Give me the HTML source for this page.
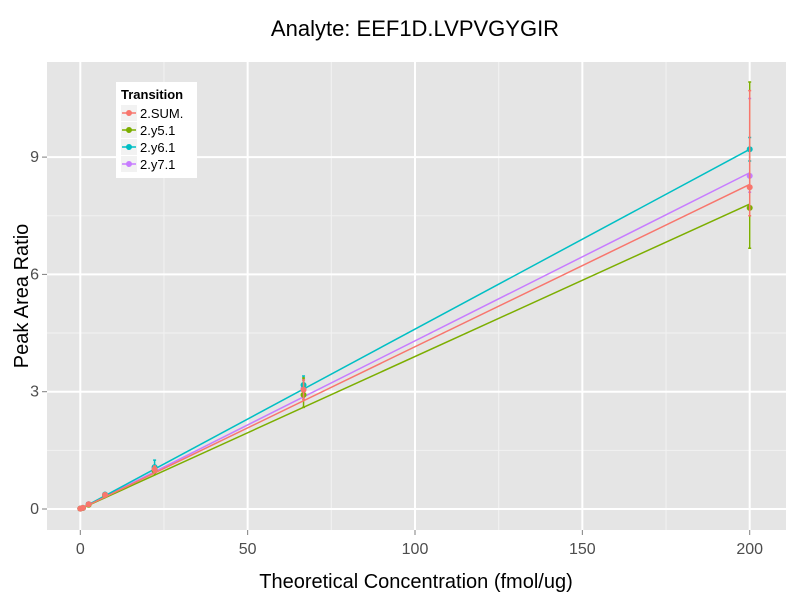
<!DOCTYPE html>
<html><head><meta charset="utf-8"><style>
body{margin:0;background:#fff;font-family:"Liberation Sans",sans-serif}
</style></head><body>
<svg id="chart" width="800" height="600" xmlns="http://www.w3.org/2000/svg">
<rect x="0" y="0" width="800" height="600" fill="#fff"/>
<rect x="47" y="62" width="739" height="468" fill="#e5e5e5"/>
<g id="grid"></g>
<g id="series"></g>
<g id="axes"></g>
<text x="415" y="36" font-size="22" text-anchor="middle" fill="#000">Analyte: EEF1D.LVPVGYGIR</text>
<text x="416" y="588" font-size="20" text-anchor="middle" fill="#000">Theoretical Concentration (fmol/ug)</text>
<text x="28" y="296" font-size="20" text-anchor="middle" fill="#000" transform="rotate(-90 28 296)">Peak Area Ratio</text>
<g>
<rect x="116" y="82" width="81" height="96" fill="#fff"/>
<text x="121" y="99" font-size="13" font-weight="bold" fill="#000">Transition</text>
<g id="legend-items"></g>
</g>
</svg>
<script>
const xTicks=[0,50,100,150,200];
const yTicks=[0,3,6,9];
const seriesNames=["2.SUM.","2.y5.1","2.y6.1","2.y7.1"];
const colors=["#F8766D","#7CAE00","#00BFC4","#C77CFF"];
const concs=[0,0.8,2.5,7.4,22.2,66.7,200];
const valsSUM=[0.01,0.03,0.12,0.36,1.02,3.05,8.23];
const valsY5=[0.01,0.03,0.11,0.35,0.98,2.92,7.70];
const valsY6=[0.01,0.03,0.12,0.37,1.07,3.17,9.20];
const valsY7=[0.01,0.03,0.12,0.36,1.04,3.08,8.52];
const lowSUM=[0,0.02,0.1,0.33,0.95,2.8,7.5];
const highSUM=[0.02,0.04,0.14,0.39,1.1,3.3,10.7];
const lowY5=[0,0.02,0.1,0.33,0.9,2.6,6.67];
const highY5=[0.02,0.04,0.13,0.38,1.05,3.35,10.92];
const lowY6=[0,0.02,0.1,0.34,0.95,3.0,8.9];
const highY6=[0.02,0.04,0.14,0.4,1.25,3.4,9.5];
const lowY7=[0,0.02,0.1,0.33,0.97,2.85,8.1];
const highY7=[0.02,0.04,0.14,0.39,1.12,3.3,10.5];
const fitEnd=[8.3,7.8,9.2,8.6];
const vals=[valsSUM,valsY5,valsY6,valsY7];
const lows=[lowSUM,lowY5,lowY6,lowY7];
const highs=[highSUM,highY5,highY6,highY7];
const NS="http://www.w3.org/2000/svg";
const X=v=>80.3+v*3.347;
const Y=v=>509-v*39.1;
function mk(p,tag,a){const e=document.createElementNS(NS,tag);for(const k in a)e.setAttribute(k,a[k]);p.appendChild(e);return e;}
const grid=document.getElementById('grid'),axes=document.getElementById('axes'),ser=document.getElementById('series');
for(let i=0;i<xTicks.length-1;i++){const m=(xTicks[i]+xTicks[i+1])/2;const l=mk(grid,'line',{x1:X(m),x2:X(m),y1:62,y2:530,stroke:'#f2f2f2','stroke-width':1});

}
for(let i=0;i<yTicks.length-1;i++){const m=(yTicks[i]+yTicks[i+1])/2;const l=mk(grid,'line',{x1:47,x2:786,y1:Y(m),y2:Y(m),stroke:'#f2f2f2','stroke-width':1});

}
xTicks.forEach(t=>{const l=mk(grid,'line',{x1:X(t),x2:X(t),y1:62,y2:530,stroke:'#fff','stroke-width':2});


mk(axes,'line',{x1:X(t),x2:X(t),y1:530,y2:535,stroke:'#7f7f7f'});
const tx=mk(axes,'text',{x:X(t),y:554,'font-size':16,'text-anchor':'middle',fill:'#4d4d4d'});tx.textContent=t;

});
yTicks.forEach(t=>{const l=mk(grid,'line',{x1:47,x2:786,y1:Y(t),y2:Y(t),stroke:'#fff','stroke-width':2});


mk(axes,'line',{x1:42,x2:47,y1:Y(t),y2:Y(t),stroke:'#7f7f7f'});
const tx=mk(axes,'text',{x:39,y:Y(t)+5,'font-size':16,'text-anchor':'end',fill:'#4d4d4d'});tx.textContent=t;

});
for(let s=seriesNames.length-1;s>=0;s--){const n=seriesNames[s];const g=mk(ser,'g',{});


const f=mk(g,'line',{x1:X(0),y1:Y(0),x2:X(200),y2:Y(fitEnd[s]),stroke:colors[s],'stroke-width':1.5});


concs.forEach((c,i)=>{const e=mk(g,'path',{d:`M${X(c)},${Y(lows[s][i])}V${Y(highs[s][i])}M${X(c)-1.5},${Y(lows[s][i])}h3M${X(c)-1.5},${Y(highs[s][i])}h3`,stroke:colors[s],'stroke-width':1.5,fill:'none'});


const p=mk(g,'circle',{cx:X(c),cy:Y(vals[s][i]),r:3,fill:colors[s]});

});}
const li=document.getElementById('legend-items');
seriesNames.forEach((n,s)=>{const y=113+s*17;const g=mk(li,'g',{});


mk(g,'rect',{x:121,y:y-8,width:16,height:16,fill:'#f2f2f2'});
mk(g,'line',{x1:122,x2:136,y1:y,y2:y,stroke:colors[s],'stroke-width':1.5});
mk(g,'circle',{cx:129,cy:y,r:3,fill:colors[s]});
const t=mk(g,'text',{x:140,y:y+5,'font-size':13,fill:'#000'});t.textContent=n;});
</script>
</body></html>
